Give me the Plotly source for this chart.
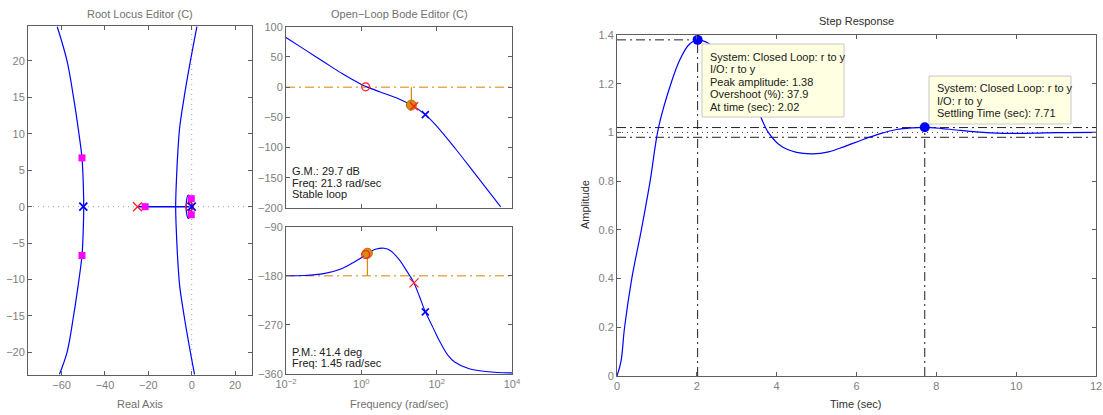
import plotly.graph_objects as go

W, H = 1103, 415

# ---------------- data ----------------
# Root locus branches (real, imag)
rl_left_re = [-62, -57.5, -54.5, -52, -50.6, -50, -49.8, -50, -50.6, -52, -54.5, -57.5, -61]
rl_left_im = [24.7, 20, 15, 10, 6.7, 3, 0, -3, -6.7, -10, -15, -20, -23]
rl_right_re = [2.4, -0.6, -3.5, -5.5, -6.3, -7.0, -7.4, -7.0, -6.3, -5.5, -3.5, -0.6, 1.3]
rl_right_im = [24.7, 20, 15, 11, 8, 4, 0, -4, -8, -11, -15, -20, -23]
rl_axis_re = [-25, -1]
rl_axis_im = [0, 0]
rl_loop_re = [0, -0.4, -1.6, -2.6, -1.6, -0.4, 0]
rl_loop_im = [0, 1.2, 1.6, 0, -1.6, -1.2, 0]
plant_poles_re = [-50, 0]
plant_poles_im = [0, 0]
comp_pole_re = [-25]
comp_zero_re = [-1]
cl_poles_re = [-50.6, -50.6, -21.5, -0.2, -0.2]
cl_poles_im = [6.7, -6.7, 0, 1.1, -1.1]

# Bode magnitude
mag_w = [0.01, 0.0316, 0.1, 0.316, 1, 1.45, 3.16, 10, 21.3, 50, 100, 316, 1000, 3162, 5000]
mag_db = [82, 62, 42, 22, 4.5, 0, -8, -19.5, -29.7, -45.5, -64.5, -102, -142, -182, -198]
# Bode phase
ph_w = [0.01, 0.03, 0.1, 0.3, 0.6, 1, 1.45, 2.5, 4, 6, 10, 16, 25, 35, 50, 80, 120, 200, 300, 700, 2300, 10000]
ph_deg = [-180, -179.5, -176, -167, -156, -147, -139, -131, -129.5, -134, -150, -171, -193, -218, -246,
          -275, -300, -326, -338, -350, -356, -358]
gm_w, gm_db = 21.3, -29.7
pm_w, pm_deg = 1.45, -138.6
bode_zero_w, bode_zero_db, bode_zero_ph = 1.3, 0.5, -141
bode_cpole_w, bode_cpole_db, bode_cpole_ph = 25, -31.5, -193
bode_ppole_w, bode_ppole_db, bode_ppole_ph = 50, -45.5, -246

# Step response
t = [0, 0.1, 0.19, 0.37, 0.61, 0.83, 1.04, 1.35, 1.58, 1.8, 2.02, 2.3, 2.6, 2.9, 3.2, 3.5, 3.79, 4.1,
     4.5, 4.9, 5.3, 5.7, 6.15, 6.6, 7.0, 7.4, 7.71, 8.1, 8.5, 9.0, 9.5, 10.0, 10.5, 11.0, 12.0]
y = [0, 0.06, 0.2, 0.4, 0.6, 0.8, 1.02, 1.2, 1.3, 1.36, 1.38, 1.365, 1.32, 1.26, 1.18, 1.10, 1.0, 0.945,
     0.918, 0.912, 0.92, 0.942, 0.97, 0.995, 1.012, 1.019, 1.021, 1.017, 1.01, 1.002, 0.997, 0.996, 0.997,
     0.999, 1.0]
peak_t, peak_y = 2.02, 1.38
settle_t, settle_y = 7.71, 1.021
settle_band = [0.98, 1.02]
final_value = 1.0

# ---------------- layout helpers ----------------
def px(x):
    return x / W

def py(yv):
    return 1 - yv / H

FONT = "Liberation Sans, Arial, Helvetica, sans-serif"
FRAME = "#5e5e5e"
TICKC = "#808080"
BLUE = "#0000FF"
RED = "#FF2020"
ORANGE_LINE = "#E8AA55"
ORANGE = "#D98A12"

fig = go.Figure()

# ---- Root locus (x, y) ----
for xs, ys in [(rl_left_re, rl_left_im), (rl_right_re, rl_right_im), (rl_loop_re, rl_loop_im)]:
    fig.add_trace(go.Scatter(x=xs, y=ys, mode="lines", line=dict(color=BLUE, width=1.2, shape="spline"),
                             xaxis="x", yaxis="y"))
fig.add_trace(go.Scatter(x=rl_axis_re, y=rl_axis_im, mode="lines", line=dict(color=BLUE, width=1.5),
                         xaxis="x", yaxis="y"))
fig.add_trace(go.Scatter(x=cl_poles_re, y=cl_poles_im, mode="markers",
                         marker=dict(symbol="square", size=7, color="#FF00FF"), xaxis="x", yaxis="y"))
fig.add_trace(go.Scatter(x=comp_zero_re, y=[0], mode="markers",
                         marker=dict(symbol="circle-open", size=8, color=RED, line=dict(width=1.2)),
                         xaxis="x", yaxis="y"))
fig.add_trace(go.Scatter(x=plant_poles_re, y=plant_poles_im, mode="markers",
                         marker=dict(symbol="x-thin", size=8, line=dict(color=BLUE, width=1.8)),
                         xaxis="x", yaxis="y"))
fig.add_trace(go.Scatter(x=comp_pole_re, y=[0], mode="markers",
                         marker=dict(symbol="x-thin", size=9, line=dict(color=RED, width=1.3)),
                         xaxis="x", yaxis="y"))

# ---- Bode magnitude (x2, y2) ----
fig.add_trace(go.Scatter(x=[0.01, 10000], y=[0, 0], mode="lines",
                         line=dict(color=ORANGE_LINE, width=1.5, dash="9px,4px,2px,4px"),
                         xaxis="x2", yaxis="y2"))
fig.add_trace(go.Scatter(x=mag_w, y=mag_db, mode="lines", line=dict(color=BLUE, width=1.1, shape="spline"),
                         xaxis="x2", yaxis="y2"))
fig.add_trace(go.Scatter(x=[gm_w, gm_w], y=[0, gm_db], mode="lines", line=dict(color=ORANGE, width=1.3),
                         xaxis="x2", yaxis="y2"))
fig.add_trace(go.Scatter(x=[gm_w], y=[gm_db], mode="markers",
                         marker=dict(size=10, color=ORANGE, line=dict(color="#B87000", width=1)),
                         xaxis="x2", yaxis="y2"))
fig.add_trace(go.Scatter(x=[bode_zero_w], y=[bode_zero_db], mode="markers",
                         marker=dict(symbol="circle-open", size=8, color=RED, line=dict(width=1.2)),
                         xaxis="x2", yaxis="y2"))
fig.add_trace(go.Scatter(x=[bode_cpole_w], y=[bode_cpole_db], mode="markers",
                         marker=dict(symbol="x-thin", size=8, line=dict(color=RED, width=1.5)),
                         xaxis="x2", yaxis="y2"))
fig.add_trace(go.Scatter(x=[bode_ppole_w], y=[bode_ppole_db], mode="markers",
                         marker=dict(symbol="x-thin", size=7, line=dict(color=BLUE, width=1.6)),
                         xaxis="x2", yaxis="y2"))

# ---- Bode phase (x3, y3) ----
fig.add_trace(go.Scatter(x=[0.01, 10000], y=[-180, -180], mode="lines",
                         line=dict(color=ORANGE_LINE, width=1.5, dash="9px,4px,2px,4px"),
                         xaxis="x3", yaxis="y3"))
fig.add_trace(go.Scatter(x=ph_w, y=ph_deg, mode="lines", line=dict(color=BLUE, width=1.1, shape="spline"),
                         xaxis="x3", yaxis="y3"))
fig.add_trace(go.Scatter(x=[pm_w, pm_w], y=[-180, pm_deg], mode="lines", line=dict(color=ORANGE, width=1.3),
                         xaxis="x3", yaxis="y3"))
fig.add_trace(go.Scatter(x=[pm_w], y=[pm_deg], mode="markers",
                         marker=dict(size=10, color=ORANGE, line=dict(color="#B87000", width=1)),
                         xaxis="x3", yaxis="y3"))
fig.add_trace(go.Scatter(x=[bode_zero_w], y=[bode_zero_ph], mode="markers",
                         marker=dict(symbol="circle-open", size=8, color=RED, line=dict(width=1.2)),
                         xaxis="x3", yaxis="y3"))
fig.add_trace(go.Scatter(x=[bode_cpole_w], y=[bode_cpole_ph], mode="markers",
                         marker=dict(symbol="x-thin", size=9, line=dict(color=RED, width=1.2)),
                         xaxis="x3", yaxis="y3"))
fig.add_trace(go.Scatter(x=[bode_ppole_w], y=[bode_ppole_ph], mode="markers",
                         marker=dict(symbol="x-thin", size=7, line=dict(color=BLUE, width=1.6)),
                         xaxis="x3", yaxis="y3"))

# ---- Step response (x4, y4) ----
DD = "9px,4px,2px,4px"
for lv in settle_band:
    fig.add_trace(go.Scatter(x=[0, 12], y=[lv, lv], mode="lines", line=dict(color="#222", width=1, dash=DD),
                             xaxis="x4", yaxis="y4"))
fig.add_trace(go.Scatter(x=[0, 12], y=[final_value, final_value], mode="lines",
                         line=dict(color="#444", width=1, dash="1px,4px"), xaxis="x4", yaxis="y4"))
fig.add_trace(go.Scatter(x=[0, peak_t], y=[peak_y, peak_y], mode="lines",
                         line=dict(color="#222", width=1, dash=DD), xaxis="x4", yaxis="y4"))
fig.add_trace(go.Scatter(x=[peak_t, peak_t], y=[0, peak_y], mode="lines",
                         line=dict(color="#222", width=1, dash=DD), xaxis="x4", yaxis="y4"))
fig.add_trace(go.Scatter(x=[settle_t, settle_t], y=[0, settle_y], mode="lines",
                         line=dict(color="#222", width=1, dash=DD), xaxis="x4", yaxis="y4"))
fig.add_trace(go.Scatter(x=t, y=y, mode="lines", line=dict(color=BLUE, width=1.2, shape="spline"),
                         xaxis="x4", yaxis="y4"))
fig.add_trace(go.Scatter(x=[peak_t, settle_t], y=[peak_y, settle_y], mode="markers",
                         marker=dict(size=10, color=BLUE), xaxis="x4", yaxis="y4"))

# ---------------- axes ----------------
def ax(**kw):
    base = dict(showline=True, linecolor=FRAME, linewidth=1, mirror="ticks", ticks="inside", ticklen=4,
                tickcolor=FRAME, showgrid=False, zeroline=False, automargin=False,
                tickfont=dict(family=FONT, size=11, color=TICKC))
    base.update(kw)
    return base

rl_dom_x = [px(28), px(252)]
rl_dom_y = [py(375), py(26)]
bd_dom_x = [px(286), px(512)]
mag_dom_y = [py(208), py(26.7)]
ph_dom_y = [py(374), py(226.7)]
st_dom_x = [px(617), px(1096)]
st_dom_y = [py(376), py(35)]

fig.update_layout(
    width=W, height=H, margin=dict(l=0, r=0, t=0, b=0, autoexpand=False),
    paper_bgcolor="white", plot_bgcolor="white", showlegend=False,
    xaxis=ax(domain=rl_dom_x, anchor="y", range=[-75.5, 27.8], tickvals=[-60, -40, -20, 0, 20],
             ticktext=["\u221260", "\u221240", "\u221220", "0", "20"]),
    yaxis=ax(domain=rl_dom_y, anchor="x", range=[-23.1, 24.8], tickvals=[-20, -15, -10, -5, 0, 5, 10, 15, 20],
             ticktext=["\u221220", "\u221215", "\u221210", "\u22125", "0", "5", "10", "15", "20"]),
    xaxis2=ax(domain=bd_dom_x, anchor="y2", type="log", range=[-2, 4], tickvals=[0.01, 1, 100, 10000],
              showticklabels=False),
    yaxis2=ax(domain=mag_dom_y, anchor="x2", range=[-200, 100], tickvals=[-200, -150, -100, -50, 0, 50, 100],
              ticktext=["\u2212200", "\u2212150", "\u2212100", "\u221250", "0", "50", "100"]),
    xaxis3=ax(domain=bd_dom_x, anchor="y3", type="log", range=[-2, 4], tickvals=[0.01, 1, 100, 10000],
              ticktext=["10<sup>\u22122</sup>", "10<sup>0</sup>", "10<sup>2</sup>", "10<sup>4</sup>"]),
    yaxis3=ax(domain=ph_dom_y, anchor="x3", range=[-360, -90], tickvals=[-360, -270, -180, -90],
              ticktext=["\u2212360", "\u2212270", "\u2212180", "\u221290"]),
    xaxis4=ax(domain=st_dom_x, anchor="y4", range=[0, 12], tickvals=[0, 2, 4, 6, 8, 10, 12]),
    yaxis4=ax(domain=st_dom_y, anchor="x4", range=[0, 1.4], tickvals=[0, 0.2, 0.4, 0.6, 0.8, 1, 1.2, 1.4],
              ticktext=["0", "0.2", "0.4", "0.6", "0.8", "1", "1.2", "1.4"]),
)

# root locus dotted axes
fig.add_shape(type="line", xref="x", yref="y", x0=0, x1=0, y0=-23.1, y1=24.8,
              line=dict(color="#A0A0A0", width=1, dash="1px,4px"), layer="below")
fig.add_shape(type="line", xref="x", yref="y", x0=-75.5, x1=27.8, y0=0, y1=0,
              line=dict(color="#A0A0A0", width=1, dash="1px,4px"), layer="below")

annots = []

def txt(x, y_, s, size=11, color="#202020", xanchor="left", yanchor="middle", angle=0):
    annots.append(dict(x=px(x), y=py(y_), xref="paper", yref="paper", text=s, showarrow=False,
                       xanchor=xanchor, yanchor=yanchor, textangle=angle,
                       font=dict(family=FONT, size=size, color=color)))

# titles and axis labels
txt(140, 14, "Root Locus Editor (C)", color="#707070", xanchor="center")
txt(399, 14, "Open\u2212Loop Bode Editor (C)", color="#707070", xanchor="center")
txt(856, 21, "Step Response", color="#303030", xanchor="center")
txt(140, 404, "Real Axis", color="#707070", xanchor="center")
txt(399, 404, "Frequency (rad/sec)", color="#707070", xanchor="center")
txt(856, 404, "Time (sec)", color="#303030", xanchor="center")
txt(585, 205, "Amplitude", color="#303030", xanchor="center", angle=-90)

# bode text
for i, s in enumerate(["G.M.: 29.7 dB", "Freq: 21.3 rad/sec", "Stable loop"]):
    txt(290, 171 + i * 11.7, s)
for i, s in enumerate(["P.M.: 41.4 deg", "Freq: 1.45 rad/sec"]):
    txt(290, 351.7 + i * 11.7, s)

# data tips
fig.add_shape(type="rect", xref="paper", yref="paper", x0=px(702), x1=px(844), y0=py(117), y1=py(44),
              fillcolor="#FFFFE1", line=dict(color="#C8C8C8", width=1), layer="above")
for i, s in enumerate(["System: Closed Loop: r to y", "I/O: r to y", "Peak amplitude: 1.38",
                       "Overshoot (%): 37.9", "At time (sec): 2.02"]):
    txt(707.5, 56.7 + i * 12.5, s)
fig.add_shape(type="rect", xref="paper", yref="paper", x0=px(929), x1=px(1071), y0=py(124), y1=py(76),
              fillcolor="#FFFFE1", line=dict(color="#C8C8C8", width=1), layer="above")
for i, s in enumerate(["System: Closed Loop: r to y", "I/O: r to y", "Settling Time (sec): 7.71"]):
    txt(935, 88.3 + i * 12.2, s)

fig.update_layout(annotations=annots)
fig.update_traces(hoverinfo="skip")
fig.write_html("out.html")
